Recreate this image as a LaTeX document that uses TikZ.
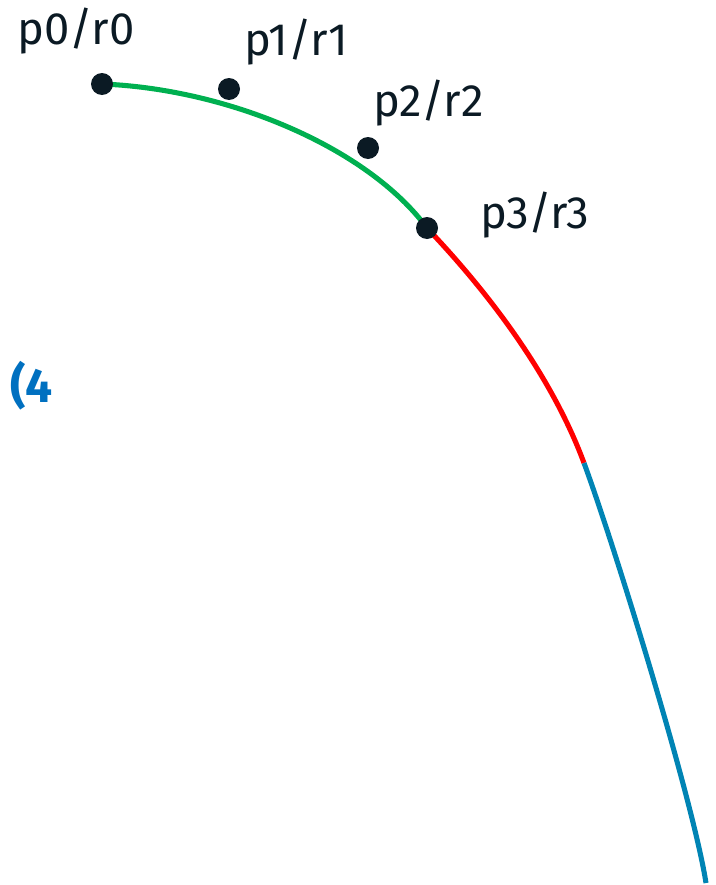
\documentclass[tikz,border=0pt]{standalone}
\usepackage{fontspec}
\setmainfont{Fira Sans}
\usepackage{tikz}
\usetikzlibrary{positioning, backgrounds}

\definecolor{dotcol}{HTML}{0B1A24}
\definecolor{segA}{HTML}{00B050}
\definecolor{segB}{HTML}{FF0000}
\definecolor{segC}{HTML}{0084B4}
\definecolor{tagcol}{HTML}{0070C0}

\tikzset{
  dot/.style={circle, fill=dotcol, inner sep=0pt, minimum size=16.5pt},
  lbl/.style={anchor=base west, inner sep=0pt, text=dotcol, font=\fontsize{34}{40}\selectfont},
  seg/.style={line width=3.8pt}
}

\begin{document}
\begin{tikzpicture}[x=0.75pt, y=-0.75pt]
  \useasboundingbox (0,0) rectangle (716,885);
  % control points
  \node[dot] (p0) at (102,84) {};
  \node[dot] (p1) at (229,89) {};
  \node[dot] (p2) at (368,148) {};
  \node[dot] (p3) at (427,228) {};
  % labels
  \node[lbl] (l0) at (17,44) {p0/r0};
  \node[lbl] (l1) at (244,55) {p1/r1};
  \node[lbl] (l2) at (373,116) {p2/r2};
  \node[lbl] (l3) at (480,228) {p3/r3};
  \node[anchor=base west, inner sep=0pt, text=tagcol, font=\bfseries\fontsize{36}{42}\selectfont] (tag) at (10,402) {(4};
  % ends of the next pieces
  \coordinate (q4) at (584,463);
  \coordinate (q5) at (706,883);
  \coordinate (c1) at (487,291);
  \coordinate (c2) at (551,374);
  \coordinate (c3) at (614,544);
  \coordinate (c4) at (693,800);
  \begin{scope}[on background layer]
    \draw[seg, segA] (p0.center) .. controls (p1.center) and (p2.center) .. (p3.center);
    \draw[seg, segB] (p3.center) .. controls (c1) and (c2) .. (q4);
    \draw[seg, segC] (q4) .. controls (c3) and (c4) .. (q5);
  \end{scope}
\end{tikzpicture}
\end{document}
